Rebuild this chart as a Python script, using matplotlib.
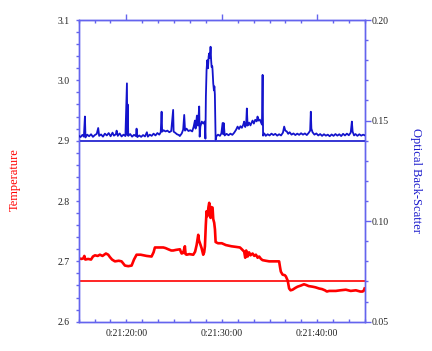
import numpy as np
import matplotlib
matplotlib.use("Agg")
import matplotlib.pyplot as plt
from matplotlib.ticker import MultipleLocator

# ---------------- data ----------------
# time axis in seconds past 0:21 (labels 0:21:20:00 etc.)
x_ticks = [20, 30, 40]
x_tick_labels = ["0:21:20:00", "0:21:30:00", "0:21:40:00"]

temp_t = [15.0, 15.3, 15.49, 15.6, 15.7, 16.0, 16.3, 16.5, 16.71, 17.0, 17.23, 17.5,
          17.86, 18.1, 18.28, 18.5, 18.8, 19.2, 19.5, 19.85, 20.2, 20.55, 20.8, 21.07,
          21.5, 22.12, 22.64, 22.85, 22.99, 23.4, 23.87, 24.1, 24.39, 24.7, 24.91, 25.2,
          25.61, 25.7, 25.79, 25.95, 26.13, 26.2, 26.31, 26.6, 27.01, 27.2, 27.36, 27.53,
          27.6, 27.71, 27.88, 28.05, 28.15, 28.23, 28.32, 28.40, 28.5, 28.6, 28.68, 28.75,
          28.82, 28.9, 29.03, 29.1, 29.2, 29.28, 29.35, 29.6, 30.0, 30.42, 31.0, 31.47,
          31.9, 32.1, 32.34, 32.45, 32.55, 32.7, 32.85, 33.0, 33.22, 33.4, 33.57, 33.75,
          33.91, 34.1, 34.27, 34.6, 34.96, 35.5, 36.0, 36.1, 36.18, 36.36, 36.6, 36.71,
          36.9, 37.05, 37.2, 37.41, 37.7, 37.93, 38.3, 38.6, 38.8, 39.1, 39.5, 39.8,
          40.19, 40.5, 40.8, 41.0, 41.24, 41.6, 41.94, 42.4, 42.99, 43.5, 44.04, 44.5,
          44.74, 44.85, 44.95]
temp_v = [2.705, 2.704, 2.705, 2.709, 2.703, 2.704, 2.703, 2.708, 2.710, 2.709, 2.711, 2.709,
          2.713, 2.711, 2.707, 2.703, 2.700, 2.701, 2.700, 2.693, 2.692, 2.693, 2.703, 2.711,
          2.711, 2.709, 2.708, 2.715, 2.723, 2.723, 2.723, 2.722, 2.720, 2.718, 2.718, 2.719,
          2.720, 2.716, 2.713, 2.714, 2.725, 2.712, 2.711, 2.712, 2.711, 2.716, 2.727, 2.744,
          2.735, 2.730, 2.722, 2.711, 2.715, 2.725, 2.760, 2.783, 2.775, 2.790, 2.797, 2.785,
          2.772, 2.790, 2.789, 2.770, 2.764, 2.753, 2.732, 2.730, 2.730, 2.727, 2.725, 2.724,
          2.723, 2.720, 2.716, 2.706, 2.718, 2.708, 2.715, 2.710, 2.713, 2.709, 2.711, 2.706,
          2.708, 2.704, 2.702, 2.701, 2.700, 2.700, 2.700, 2.690, 2.683, 2.678, 2.677, 2.675,
          2.668, 2.655, 2.652, 2.653, 2.656, 2.658, 2.660, 2.662, 2.661, 2.659, 2.658, 2.657,
          2.655, 2.654, 2.652, 2.650, 2.651, 2.651, 2.651, 2.652, 2.653, 2.651, 2.652, 2.650,
          2.650, 2.651, 2.655]
temp_ref = 2.667

obs_t = [15.0, 15.2, 15.4, 15.55, 15.66, 15.72, 15.9, 16.1, 16.3, 16.5, 16.7, 16.9,
         17.05, 17.15, 17.35, 17.55, 17.75, 17.95, 18.15, 18.35, 18.55, 18.7, 18.9, 18.98,
         19.1, 19.3, 19.5, 19.7, 19.9, 20.06, 20.1, 20.14, 20.2, 20.4, 20.6, 20.8,
         21.0, 21.07, 21.15, 21.35, 21.55, 21.75, 21.95, 22.15, 22.25, 22.45, 22.65, 22.85,
         23.05, 23.25, 23.45, 23.6, 23.69, 23.75, 23.9, 24.1, 24.3, 24.5, 24.7, 24.9,
         24.95, 25.1, 25.3, 25.5, 25.6, 25.8, 25.95, 26.06, 26.15, 26.3, 26.5, 26.7,
         26.9, 27.05, 27.18, 27.25, 27.39, 27.5, 27.63, 27.68, 27.75, 27.9, 28.05, 28.2,
         28.28, 28.33, 28.4, 28.47, 28.55, 28.62, 28.68, 28.75, 28.82, 28.88, 28.93, 29.0,
         29.03, 29.1, 29.17, 29.22, 29.27, 29.35, 29.43, 29.6, 29.8, 29.95, 30.08, 30.15,
         30.2, 30.3, 30.5, 30.7, 30.9, 31.1, 31.3, 31.5, 31.65, 31.8, 31.95, 32.1,
         32.25, 32.34, 32.45, 32.55, 32.62, 32.7, 32.85, 33.0, 33.1, 33.22, 33.35, 33.5,
         33.65, 33.74, 33.85, 33.98, 34.1, 34.2, 34.27, 34.32, 34.45, 34.6, 34.8, 35.0,
         35.2, 35.4, 35.6, 35.8, 36.0, 36.2, 36.4, 36.53, 36.65, 36.8, 36.95, 37.1,
         37.3, 37.5, 37.7, 37.9, 38.1, 38.3, 38.5, 38.7, 38.9, 39.1, 39.25, 39.32,
         39.38, 39.5, 39.7, 39.9, 40.1, 40.3, 40.5, 40.7, 40.9, 41.1, 41.3, 41.5,
         41.7, 41.9, 42.1, 42.3, 42.5, 42.7, 42.9, 43.1, 43.3, 43.5, 43.62, 43.7,
         43.85, 44.0, 44.2, 44.4, 44.6, 44.8, 45.0]
obs_v_milli = [142.5, 141.8, 142.9, 142.0, 152.0, 141.6, 143.0, 142.2, 143.2, 141.9, 142.8, 143.4,
               146.3, 142.4, 143.1, 142.0, 143.5, 142.6, 143.8, 142.2, 144.0, 142.5, 143.2, 145.0,
               142.4, 143.6, 142.1, 143.0, 142.3, 168.5, 142.8, 158.0, 142.4, 143.3, 142.0, 142.9,
               142.3, 146.0, 141.8, 142.6, 141.9, 142.8, 142.1, 144.2, 142.0, 143.0, 142.4, 143.5,
               142.6, 143.8, 143.0, 144.2, 154.4, 144.5, 145.2, 144.6, 145.0, 144.2, 144.8, 155.3,
               144.5, 144.0, 143.2, 142.8, 142.3, 143.6, 145.5, 152.8, 145.0, 146.0, 144.8, 145.2,
               144.6, 147.0, 150.0, 146.0, 152.5, 147.5, 157.0, 142.0, 147.0, 149.5, 148.5, 149.5,
               141.0, 162.0, 175.0, 180.0, 176.0, 182.0, 183.4, 181.0, 186.7, 180.0, 176.6, 177.0,
               175.0, 168.5, 165.0, 167.0, 163.0, 140.5, 142.2, 143.0, 142.4, 143.6, 148.8, 143.2,
               148.7, 142.6, 143.4, 142.7, 143.5, 142.9, 144.0, 145.5, 147.0, 145.8, 147.2, 146.4,
               148.0, 149.5, 146.8, 148.2, 156.0, 147.5, 149.0, 147.6, 148.8, 150.0, 148.5, 150.4,
               149.6, 152.0, 150.0, 150.5, 149.2, 148.0, 172.7, 142.5, 143.6, 142.4, 143.2, 142.6,
               143.5, 142.8, 143.4, 142.5, 143.2, 142.6, 144.0, 147.0, 145.0, 144.6, 143.4, 144.2,
               143.0, 143.6, 142.8, 143.5, 142.9, 143.7, 143.0, 143.6, 142.8, 143.9, 145.0, 154.4,
               146.0, 144.2, 143.0, 143.6, 142.6, 143.3, 142.4, 143.2, 142.5, 143.0, 142.2, 143.1,
               142.4, 143.3, 142.5, 143.2, 142.3, 143.4, 142.6, 143.5, 142.7, 144.0, 149.5, 144.5,
               142.6, 143.3, 142.4, 143.2, 142.5, 143.0, 142.6]
obs_v = np.array(obs_v_milli) / 1000.0
obs_ref = 0.140

# ---------------- styling ----------------
serif = ["Liberation Serif", "DejaVu Serif"]
plt.rcParams["font.family"] = serif
spine_c = "#6464ee"
tick_txt = "#222222"
blue = "#1414cc"
red = "#ff0000"

fig = plt.figure(figsize=(4.32, 3.51), dpi=100)
ax = fig.add_axes([0.182, 0.0835, 0.663, 0.8595])
ax2 = ax.twinx()

ax.plot(temp_t, temp_v, color=red, lw=1.9, zorder=3)
ax.axhline(temp_ref, color=red, lw=1.2, zorder=2)
ax2.plot(obs_t, obs_v, color=blue, lw=1.3, zorder=3)
ax2.axhline(obs_ref, color=blue, lw=1.2, zorder=2)

ax.set_xlim(15, 45)
ax.set_ylim(2.6, 3.1)
ax2.set_ylim(0.05, 0.20)

ax.set_yticks([2.6, 2.7, 2.8, 2.9, 3.0, 3.1])
ax.yaxis.set_minor_locator(MultipleLocator(0.02))
ax2.set_yticks([0.05, 0.10, 0.15, 0.20])
ax2.set_yticklabels(["0.05", "0.10", "0.15", "0.20"])
ax2.yaxis.set_minor_locator(MultipleLocator(0.01))

ax.set_xticks(x_ticks)
ax.set_xticklabels(x_tick_labels)
ax.xaxis.set_minor_locator(MultipleLocator(10 / 6))

for a in (ax, ax2):
    for s in a.spines.values():
        s.set_color(spine_c)
        s.set_linewidth(1.0)

ax.tick_params(axis="y", which="major", direction="out", length=2, width=1,
               color=spine_c, labelcolor=tick_txt, labelsize=7, pad=4.5)
ax.tick_params(axis="y", which="minor", direction="out", length=2, width=1, color=spine_c)
ax2.tick_params(axis="y", which="major", direction="out", length=4.5, width=1,
                color=spine_c, labelcolor=tick_txt, labelsize=7, pad=0.5)
ax2.tick_params(axis="y", which="minor", direction="out", length=2.2, width=1, color=spine_c)
ax.tick_params(axis="x", which="both", direction="in", length=2.5, width=1, top=False,
               color=spine_c, labelcolor=tick_txt, labelsize=7, pad=5)

sec = ax.secondary_xaxis("top")
sec.set_xticks(x_ticks)
sec.set_xticklabels([])
sec.xaxis.set_minor_locator(MultipleLocator(10 / 6))
sec.tick_params(which="major", direction="out", length=4, width=1, color=spine_c)
sec.tick_params(which="minor", direction="in", length=2.5, width=1, color=spine_c)
sec.spines["top"].set_color(spine_c)

fig.text(0.035, 0.487, "Temperature", rotation=90, color=red, fontsize=9,
         ha="center", va="center")
fig.text(0.963, 0.487, "Optical Back-Scatter", rotation=270, color="#1a1acc",
         fontsize=9, ha="center", va="center")

fig.savefig("out.png", dpi=100)
